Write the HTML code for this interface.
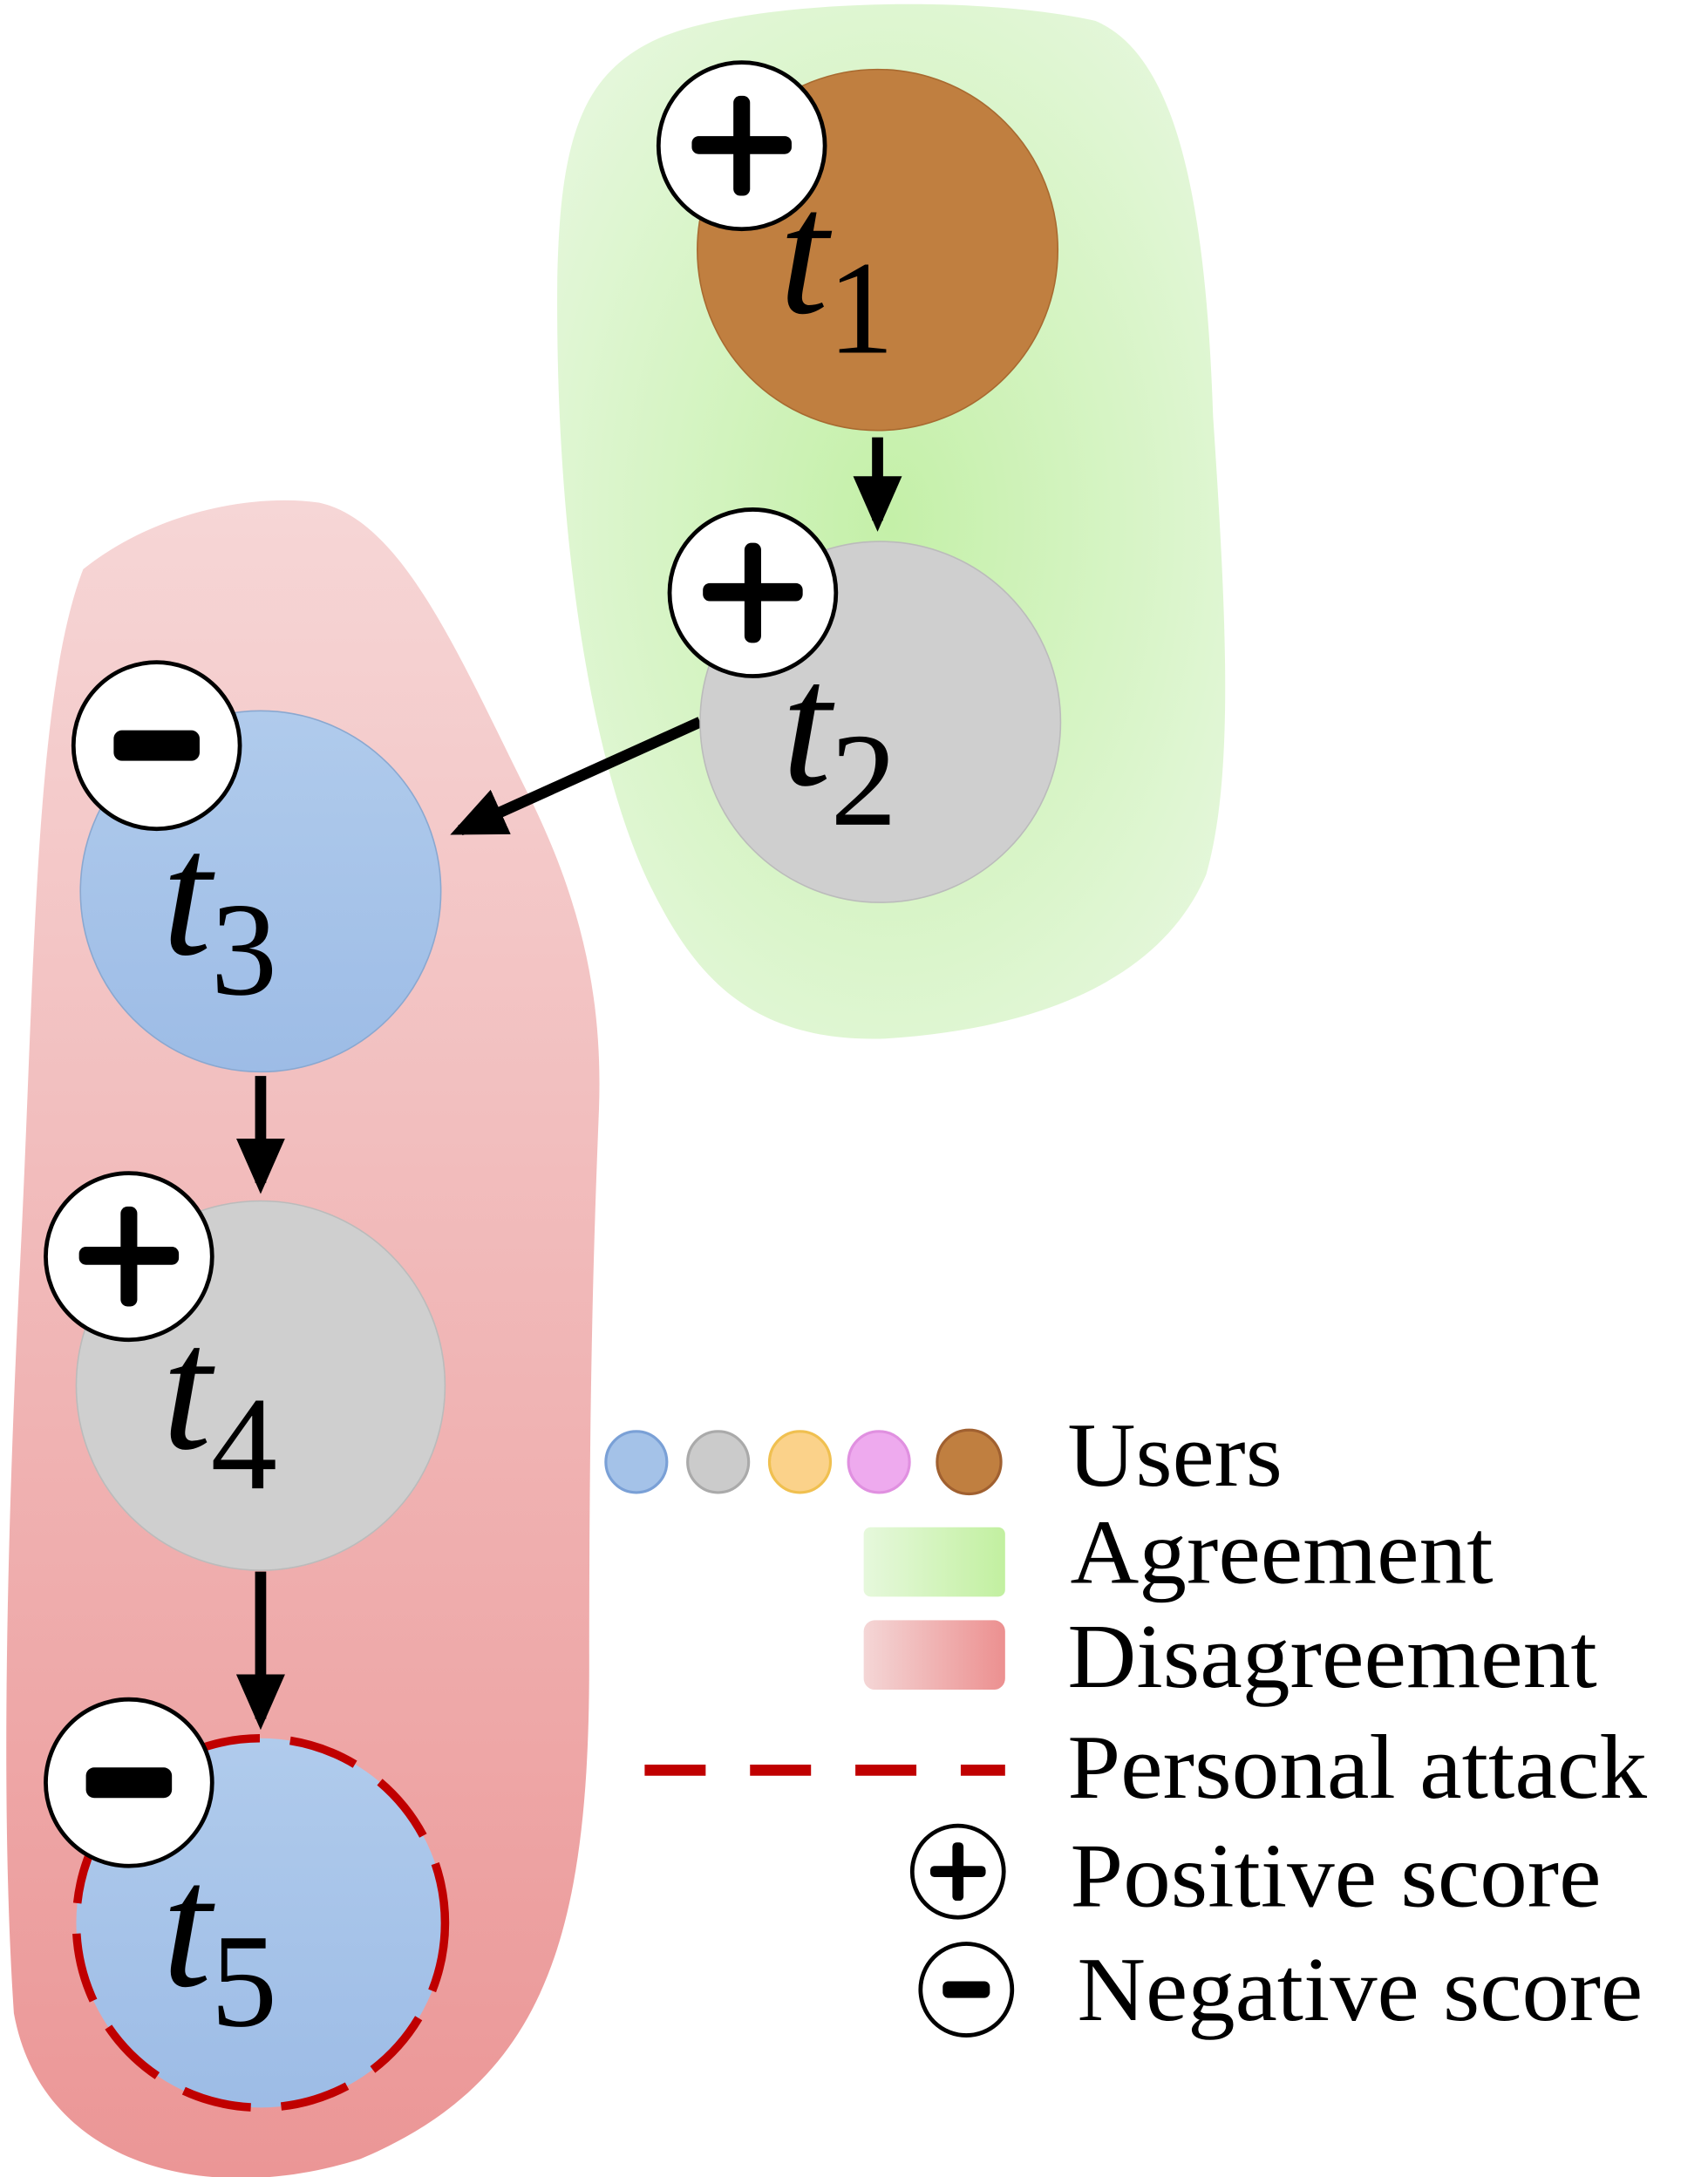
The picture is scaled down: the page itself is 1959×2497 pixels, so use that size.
<!DOCTYPE html>
<html><head><meta charset="utf-8"><style>html,body{margin:0;padding:0;background:#fff}svg{display:block}</style></head>
<body>
<svg width="1959" height="2497" viewBox="0 0 1232 1568" preserveAspectRatio="none" xmlns="http://www.w3.org/2000/svg">
<defs>
<radialGradient id="gg" cx="0.5" cy="0.5" r="0.6">
<stop offset="0" stop-color="#c4f0a8"/><stop offset="1" stop-color="#e4f7da"/></radialGradient>
<linearGradient id="rg" x1="0" y1="0" x2="0" y2="1">
<stop offset="0" stop-color="#f6d6d6"/><stop offset="1" stop-color="#eb9696"/></linearGradient>
<linearGradient id="lg" x1="0" y1="0" x2="1" y2="0"><stop offset="0" stop-color="#e6f8dc"/><stop offset="1" stop-color="#c2f0a0"/></linearGradient>
<linearGradient id="lr" x1="0" y1="0" x2="1" y2="0"><stop offset="0" stop-color="#f4d6d6"/><stop offset="1" stop-color="#ec9090"/></linearGradient>
<linearGradient id="bl" x1="0" y1="0" x2="0" y2="1"><stop offset="0" stop-color="#b0cbec"/><stop offset="1" stop-color="#9dbce6"/></linearGradient>
<marker id="ah" markerWidth="5" markerHeight="4.4" refX="4" refY="2.2" orient="auto" markerUnits="strokeWidth"><path d="M0,0 L5,2.2 L0,4.4 Z" fill="#000"/></marker>
</defs>
<path d="M470 30 C530 0,700 -5,790 15 C850 40,870 150,875 300 C885 450,890 560,870 630 C840 700,760 740,640 748 C540 752,500 700,470 640 C430 560,400 400,402 200 C404 100,420 55,470 30 Z" fill="url(#gg)"/>
<path d="M60 410 C110 370,180 355,230 362 C290 375,330 470,380 570 C420 650,435 720,432 800 C428 900,425 1000,425 1200 C425 1400,390 1500,260 1555 C150 1590,30 1560,10 1450 C0 1300,5 1100,15 900 C25 700,25 500,60 410 Z" fill="url(#rg)"/>

<g stroke="#000" stroke-width="8" fill="none">
<line x1="633" y1="315" x2="633" y2="375" marker-end="url(#ah)"/>
<line x1="505" y1="520" x2="332" y2="598" marker-end="url(#ah)"/>
<line x1="188" y1="775" x2="188" y2="852" marker-end="url(#ah)"/>
<line x1="188" y1="1132" x2="188" y2="1238" marker-end="url(#ah)"/>
</g>

<circle cx="633" cy="180" r="130" fill="#c07f40" stroke="#a86a30" stroke-width="1"/>
<circle cx="635" cy="520" r="130" fill="#cfcfcf" stroke="#bbb" stroke-width="1"/>
<circle cx="188" cy="642" r="130" fill="url(#bl)" stroke="#8aa8d0" stroke-width="1"/>
<circle cx="188" cy="998" r="133" fill="#cfcfcf" stroke="#bbb" stroke-width="1"/>
<circle cx="188" cy="1385" r="133" fill="url(#bl)" stroke="#c00000" stroke-width="6" stroke-dasharray="50 22"/>

<g font-family="Liberation Serif, serif" fill="#000">
<text x="562" y="225" font-size="128" font-style="italic">t</text><text x="597" y="254" font-size="96">1</text>
<text x="564" y="565" font-size="128" font-style="italic">t</text><text x="599" y="594" font-size="96">2</text>
<text x="117" y="687" font-size="128" font-style="italic">t</text><text x="152" y="716" font-size="96">3</text>
<text x="117" y="1043" font-size="128" font-style="italic">t</text><text x="152" y="1072" font-size="96">4</text>
<text x="117" y="1430" font-size="128" font-style="italic">t</text><text x="152" y="1459" font-size="96">5</text>
</g>

<g stroke="#000" stroke-width="3" fill="#fff">
<circle cx="535" cy="105" r="60"/><circle cx="543" cy="427" r="60"/>
<circle cx="113" cy="537" r="60"/><circle cx="93" cy="905" r="60"/><circle cx="93" cy="1284" r="60"/>
<circle cx="691" cy="1348" r="33"/><circle cx="697" cy="1433" r="33"/>
</g>
<g fill="#000">
<rect x="499" y="98" width="72" height="13" rx="5"/><rect x="529" y="69" width="12" height="72" rx="5"/>
<rect x="507" y="420" width="72" height="13" rx="5"/><rect x="537" y="391" width="12" height="72" rx="5"/>
<rect x="57" y="898" width="72" height="13" rx="5"/><rect x="87" y="869" width="12" height="72" rx="5"/>
<rect x="82" y="526" width="62" height="22" rx="6"/>
<rect x="62" y="1273" width="62" height="22" rx="6"/>
<rect x="671" y="1344" width="40" height="8" rx="3"/><rect x="687" y="1327" width="8" height="42" rx="3"/>
<rect x="680" y="1427" width="34" height="12" rx="4"/>
</g>

<circle cx="459" cy="1053" r="22" fill="#a4c2e8" stroke="#7aa0d6" stroke-width="2"/>
<circle cx="518" cy="1053" r="22" fill="#cbcbcb" stroke="#aaa" stroke-width="2"/>
<circle cx="577" cy="1053" r="22" fill="#fbd28a" stroke="#f0c050" stroke-width="2"/>
<circle cx="634" cy="1053" r="22" fill="#eeaaee" stroke="#e090e0" stroke-width="2"/>
<circle cx="699" cy="1053" r="23" fill="#c07f40" stroke="#a06030" stroke-width="2"/>
<rect x="623" y="1100" width="102" height="50" rx="5" fill="url(#lg)"/>
<rect x="623" y="1167" width="102" height="50" rx="8" fill="url(#lr)"/>
<line x1="465" y1="1275" x2="725" y2="1275" stroke="#c00000" stroke-width="8" stroke-dasharray="44 32"/>

<g font-family="Liberation Serif, serif" font-size="66" fill="#000">
<text x="770" y="1070" textLength="155" lengthAdjust="spacingAndGlyphs">Users</text>
<text x="772" y="1140" textLength="305" lengthAdjust="spacingAndGlyphs">Agreement</text>
<text x="770" y="1215" textLength="382" lengthAdjust="spacingAndGlyphs">Disagreement</text>
<text x="770" y="1295" textLength="418" lengthAdjust="spacingAndGlyphs">Personal attack</text>
<text x="772" y="1373" textLength="383" lengthAdjust="spacingAndGlyphs">Positive score</text>
<text x="777" y="1455" textLength="408" lengthAdjust="spacingAndGlyphs">Negative score</text>
</g>
</svg>
</body></html>
